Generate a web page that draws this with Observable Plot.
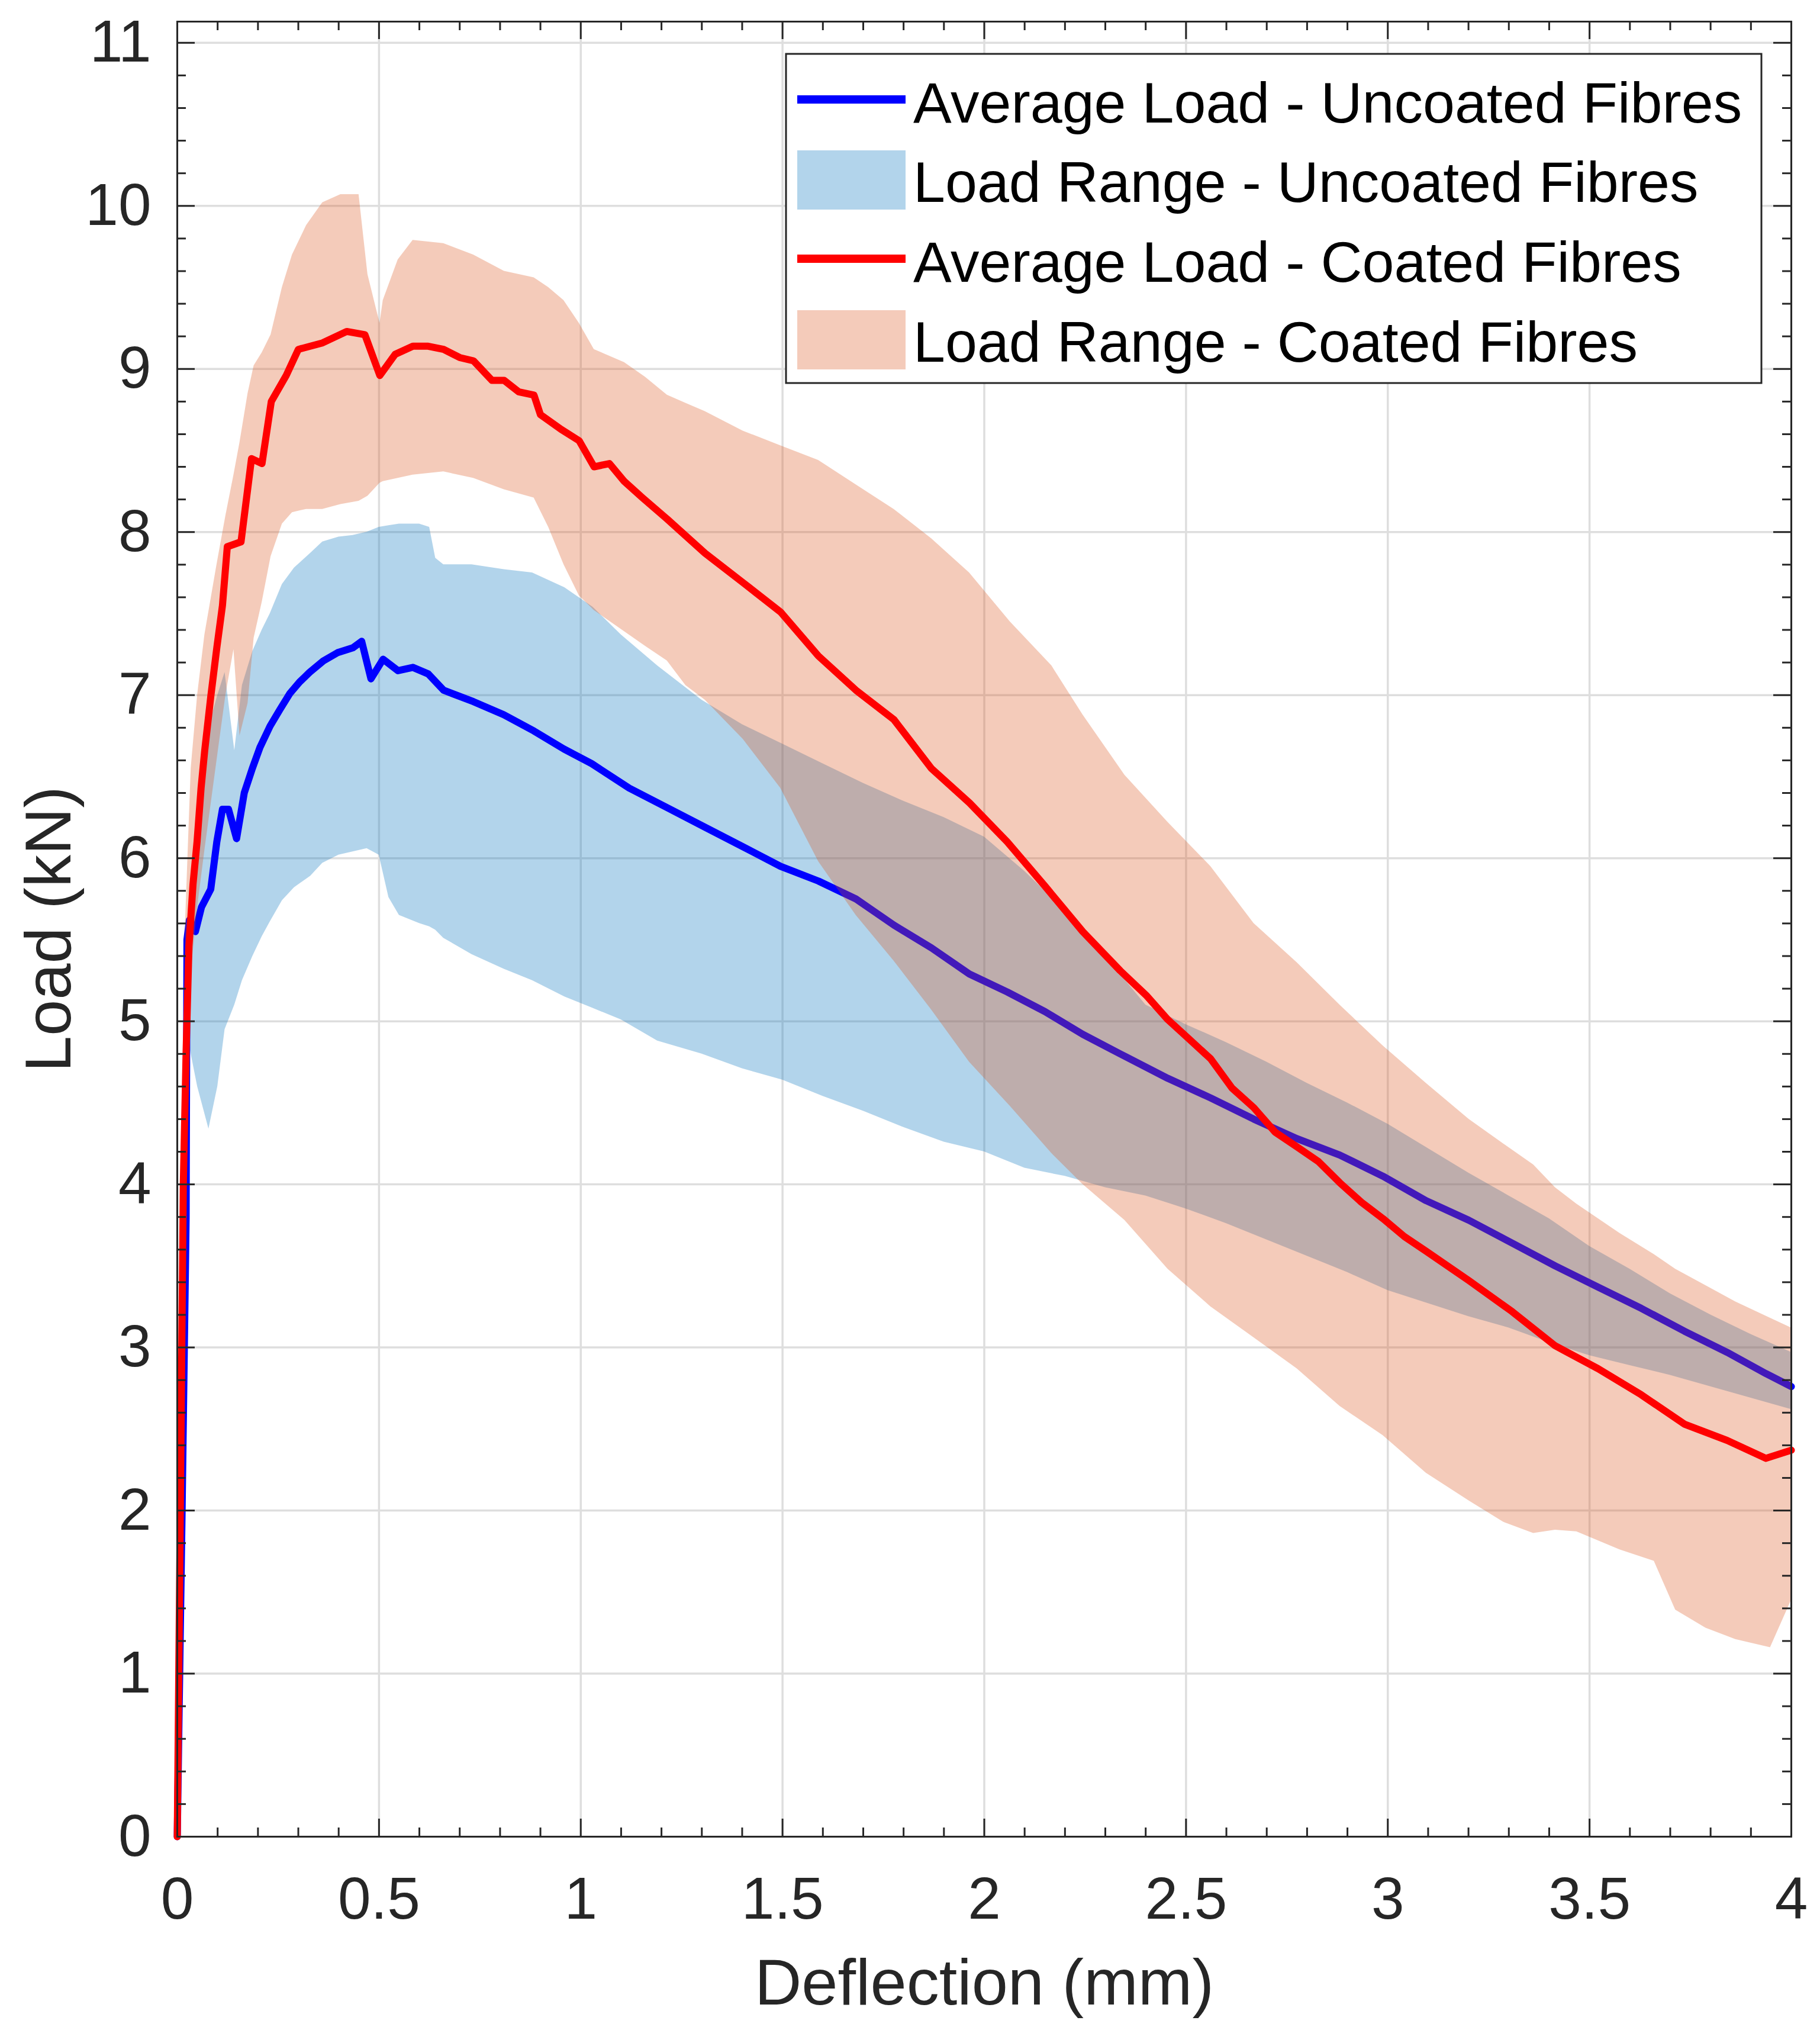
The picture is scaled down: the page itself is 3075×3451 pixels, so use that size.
<!DOCTYPE html>
<html>
<head>
<meta charset="utf-8">
<script src="https://cdn.jsdelivr.net/npm/d3@7"></script>
<script src="https://cdn.jsdelivr.net/npm/@observablehq/plot@0.6"></script>
<style>
  body { margin: 0; background: #fff; }
</style>
</head>
<body>
<div id="chart"></div>
<script>
// average load, uncoated fibres
const deflUncoated = [0, 0.012, 0.022, 0.024, 0.03, 0.045, 0.06, 0.083, 0.098, 0.112, 0.127, 0.147, 0.166, 0.186, 0.205, 0.23, 0.254, 0.279, 0.303, 0.328, 0.362, 0.397, 0.435, 0.457, 0.48, 0.51, 0.547, 0.584, 0.622, 0.66, 0.734, 0.809, 0.884, 0.958, 1.027, 1.12, 1.214, 1.308, 1.402, 1.495, 1.589, 1.682, 1.776, 1.869, 1.963, 2.057, 2.15, 2.244, 2.337, 2.455, 2.561, 2.668, 2.775, 2.881, 2.988, 3.095, 3.201, 3.308, 3.415, 3.521, 3.628, 3.735, 3.841, 3.937, 4.0]
const loadUncoated = [0, 2.0, 3.8, 5.5, 5.62, 5.55, 5.70, 5.81, 6.10, 6.30, 6.30, 6.12, 6.40, 6.55, 6.68, 6.81, 6.91, 7.01, 7.08, 7.14, 7.21, 7.26, 7.29, 7.33, 7.10, 7.22, 7.15, 7.17, 7.13, 7.03, 6.96, 6.88, 6.78, 6.67, 6.58, 6.43, 6.31, 6.19, 6.07, 5.95, 5.86, 5.75, 5.59, 5.45, 5.29, 5.18, 5.06, 4.92, 4.80, 4.65, 4.53, 4.40, 4.28, 4.18, 4.05, 3.90, 3.78, 3.64, 3.50, 3.37, 3.24, 3.10, 2.97, 2.84, 2.76]

// average load, coated fibres
const deflCoated = [0, 0.015, 0.022, 0.029, 0.039, 0.049, 0.059, 0.068, 0.083, 0.098, 0.112, 0.124, 0.158, 0.184, 0.21, 0.233, 0.27, 0.30, 0.36, 0.42, 0.465, 0.502, 0.54, 0.584, 0.62, 0.66, 0.70, 0.734, 0.78, 0.81, 0.846, 0.884, 0.90, 0.951, 0.996, 1.033, 1.071, 1.108, 1.153, 1.214, 1.308, 1.402, 1.495, 1.589, 1.682, 1.776, 1.869, 1.963, 2.057, 2.15, 2.244, 2.337, 2.401, 2.455, 2.508, 2.561, 2.614, 2.668, 2.721, 2.775, 2.828, 2.881, 2.935, 2.988, 3.041, 3.095, 3.201, 3.308, 3.415, 3.521, 3.628, 3.735, 3.841, 3.937, 4.0]
const loadCoated = [0, 4.0, 4.82, 5.46, 5.84, 6.10, 6.43, 6.66, 6.99, 7.29, 7.55, 7.91, 7.94, 8.45, 8.42, 8.80, 8.96, 9.12, 9.16, 9.23, 9.21, 8.96, 9.09, 9.14, 9.14, 9.12, 9.07, 9.05, 8.93, 8.93, 8.86, 8.84, 8.72, 8.63, 8.56, 8.40, 8.42, 8.31, 8.21, 8.08, 7.87, 7.69, 7.51, 7.24, 7.03, 6.85, 6.55, 6.34, 6.10, 5.83, 5.55, 5.31, 5.16, 5.01, 4.89, 4.77, 4.59, 4.47, 4.32, 4.23, 4.14, 4.01, 3.89, 3.79, 3.68, 3.59, 3.41, 3.22, 3.01, 2.87, 2.71, 2.53, 2.43, 2.32, 2.37]

// load range (min / max), uncoated fibres
const rangeDeflUncoated = [0, 0.015, 0.025, 0.03, 0.05, 0.078, 0.1, 0.118, 0.142, 0.161, 0.187, 0.21, 0.23, 0.26, 0.29, 0.33, 0.36, 0.4, 0.435, 0.47, 0.5, 0.524, 0.55, 0.6, 0.625, 0.64, 0.66, 0.73, 0.81, 0.88, 0.96, 1.03, 1.1, 1.19, 1.3, 1.4, 1.5, 1.6, 1.7, 1.8, 1.9, 2.0, 2.1, 2.2, 2.3, 2.4, 2.5, 2.6, 2.7, 2.8, 2.9, 3.0, 3.1, 3.2, 3.3, 3.4, 3.5, 3.6, 3.7, 3.8, 3.9, 4.0]
const rangeMinUncoated = [0, 1.5, 4.0, 4.85, 4.6, 4.34, 4.6, 4.95, 5.1, 5.25, 5.4, 5.52, 5.61, 5.74, 5.82, 5.89, 5.97, 6.02, 6.04, 6.06, 6.02, 5.76, 5.65, 5.60, 5.58, 5.56, 5.51, 5.41, 5.32, 5.25, 5.15, 5.08, 5.01, 4.88, 4.80, 4.71, 4.64, 4.54, 4.45, 4.35, 4.26, 4.20, 4.10, 4.05, 3.98, 3.93, 3.85, 3.76, 3.66, 3.56, 3.46, 3.35, 3.27, 3.19, 3.12, 3.03, 2.95, 2.89, 2.83, 2.76, 2.69, 2.62]
const rangeMaxUncoated = [0, 2.5, 5.4, 5.7, 6.3, 6.8, 7.0, 7.14, 6.66, 7.06, 7.27, 7.4, 7.5, 7.68, 7.78, 7.87, 7.94, 7.97, 7.98, 8.0, 8.03, 8.04, 8.05, 8.05, 8.03, 7.84, 7.80, 7.80, 7.77, 7.75, 7.66, 7.54, 7.37, 7.18, 6.97, 6.82, 6.70, 6.58, 6.46, 6.35, 6.25, 6.13, 5.92, 5.68, 5.40, 5.10, 4.98, 4.87, 4.75, 4.62, 4.50, 4.37, 4.22, 4.07, 3.93, 3.79, 3.62, 3.48, 3.33, 3.20, 3.08, 2.97]

// load range (min / max), coated fibres
const rangeDeflCoated = [0, 0.01, 0.02, 0.034, 0.05, 0.068, 0.098, 0.12, 0.14, 0.155, 0.175, 0.19, 0.21, 0.232, 0.26, 0.285, 0.32, 0.36, 0.405, 0.45, 0.472, 0.502, 0.51, 0.547, 0.584, 0.66, 0.734, 0.81, 0.884, 0.92, 0.958, 0.996, 1.033, 1.108, 1.16, 1.214, 1.26, 1.308, 1.402, 1.495, 1.589, 1.682, 1.776, 1.869, 1.963, 2.064, 2.167, 2.244, 2.348, 2.455, 2.561, 2.668, 2.775, 2.881, 2.988, 3.095, 3.201, 3.286, 3.361, 3.415, 3.468, 3.575, 3.66, 3.713, 3.788, 3.862, 3.948, 4.0]
const rangeMinCoated = [0, 1.5, 3.8, 5.3, 5.7, 6.05, 6.6, 7.0, 7.28, 6.75, 6.95, 7.35, 7.57, 7.85, 8.05, 8.12, 8.14, 8.14, 8.17, 8.19, 8.22, 8.30, 8.31, 8.33, 8.35, 8.37, 8.33, 8.26, 8.21, 8.03, 7.80, 7.61, 7.52, 7.39, 7.30, 7.21, 7.06, 6.97, 6.73, 6.43, 5.98, 5.65, 5.37, 5.07, 4.75, 4.48, 4.19, 4.00, 3.78, 3.48, 3.25, 3.06, 2.87, 2.64, 2.46, 2.23, 2.06, 1.93, 1.86, 1.88, 1.87, 1.76, 1.69, 1.39, 1.28, 1.21, 1.16, 1.45]
const rangeMaxCoated = [0, 3.5, 5.6, 6.55, 7.0, 7.37, 7.8, 8.1, 8.35, 8.55, 8.85, 9.02, 9.1, 9.21, 9.5, 9.70, 9.88, 10.02, 10.07, 10.07, 9.58, 9.28, 9.42, 9.67, 9.79, 9.77, 9.70, 9.60, 9.56, 9.50, 9.42, 9.28, 9.12, 9.04, 8.95, 8.84, 8.79, 8.74, 8.62, 8.53, 8.44, 8.29, 8.14, 7.96, 7.75, 7.45, 7.18, 6.88, 6.51, 6.22, 5.95, 5.60, 5.36, 5.10, 4.85, 4.62, 4.40, 4.25, 4.12, 3.98, 3.88, 3.70, 3.57, 3.48, 3.38, 3.28, 3.18, 3.12]

const xTicks = [0, 0.5, 1, 1.5, 2, 2.5, 3, 3.5, 4]
const yTicks = [0, 1, 2, 3, 4, 5, 6, 7, 8, 9, 10, 11]
const legendLabels = ['Average Load - Uncoated Fibres', 'Load Range - Uncoated Fibres', 'Average Load - Coated Fibres', 'Load Range - Coated Fibres']

const W = 3075, H = 3451
const mL = 299, mR = 49, mT = 36, mB = 349
const xMax = 4, yMax = 11.13
const pxX = (W - mL - mR) / xMax
const pxY = (H - mT - mB) / yMax
const axisCol = '#262626'
const font = 'Liberation Sans, Arial, Helvetica, sans-serif'
const blueFill = '#0072bd', redFill = '#d95319'

const xMinor = d3.range(0, 40.5, 1).map(d => d / 10).filter(d => !xTicks.includes(d))
const yMinor = d3.range(0, 56, 1).map(d => d / 5).filter(d => d <= 11 && !yTicks.includes(d))

const bandU = rangeDeflUncoated.map((x, i) => ({x, lo: rangeMinUncoated[i], hi: rangeMaxUncoated[i]}))
const bandC = rangeDeflCoated.map((x, i) => ({x, lo: rangeMinCoated[i], hi: rangeMaxCoated[i]}))
const avgU = deflUncoated.map((x, i) => ({x, y: loadUncoated[i]}))
const avgC = deflCoated.map((x, i) => ({x, y: loadCoated[i]}))

// inward ticks on all four sides (matlab box)
const major = 30, minor = 15
const ticksXY = (xs, len) => [
  Plot.ruleX(xs, {x: d => d, y1: 0, y2: len / pxY, stroke: axisCol, strokeWidth: 3}),
  Plot.ruleX(xs, {x: d => d, y1: yMax, y2: yMax - len / pxY, stroke: axisCol, strokeWidth: 3})
]
const ticksYX = (ys, len) => [
  Plot.ruleY(ys, {y: d => d, x1: 0, x2: len / pxX, stroke: axisCol, strokeWidth: 3}),
  Plot.ruleY(ys, {y: d => d, x1: xMax, x2: xMax - len / pxX, stroke: axisCol, strokeWidth: 3})
]

const chart = Plot.plot({
  width: W,
  height: H,
  marginLeft: mL,
  marginRight: mR,
  marginTop: mT,
  marginBottom: mB,
  x: {domain: [0, xMax]},
  y: {domain: [0, yMax]},
  style: {fontFamily: font, background: '#fff', color: axisCol},
  marks: [
    Plot.ruleX(xTicks, {x: d => d, stroke: '#dedede', strokeWidth: 3.5}),
    Plot.ruleY(yTicks, {y: d => d, stroke: '#dedede', strokeWidth: 3.5}),
    Plot.areaY(bandU, {x: 'x', y1: 'lo', y2: 'hi', fill: blueFill, fillOpacity: 0.3}),
    Plot.line(avgU, {x: 'x', y: 'y', stroke: '#0000ff', strokeWidth: 12, strokeLinejoin: 'round'}),
    Plot.areaY(bandC, {x: 'x', y1: 'lo', y2: 'hi', fill: redFill, fillOpacity: 0.3}),
    Plot.line(avgC, {x: 'x', y: 'y', stroke: '#ff0000', strokeWidth: 12, strokeLinejoin: 'round'}),
    Plot.frame({stroke: axisCol, strokeWidth: 3}),
    ...ticksXY(xTicks, major),
    ...ticksXY(xMinor, minor),
    ...ticksYX(yTicks, major),
    ...ticksYX(yMinor, minor),
    Plot.axisX(xTicks, {tickSize: 0, tickPadding: 67, fontSize: 100, tickFormat: d => String(d), label: null, color: axisCol}),
    Plot.axisY(yTicks, {tickSize: 0, tickPadding: 44, fontSize: 100, tickFormat: d => String(d), label: null, color: axisCol}),
    Plot.text(['Deflection (mm)'], {frameAnchor: 'bottom', dy: 248, lineAnchor: 'middle', textAnchor: 'middle', fontSize: 110, fill: axisCol}),
    Plot.text(['Load (kN)'], {x: -216 / pxX, y: yMax / 2, rotate: -90, lineAnchor: 'middle', textAnchor: 'middle', fontSize: 110, fill: axisCol}),
  ]
})

// legend box, top right
const svg = d3.select(chart)
const lg = svg.append('g').attr('font-family', font).attr('text-anchor', 'start')
lg.append('rect').attr('x', 1328).attr('y', 91).attr('width', 1648).attr('height', 556)
  .attr('fill', '#fff').attr('stroke', axisCol).attr('stroke-width', 3)
const rowY = [172, 306, 441, 576]
const swatch = [
  {type: 'line', color: '#0000ff'},
  {type: 'patch', color: blueFill},
  {type: 'line', color: '#ff0000'},
  {type: 'patch', color: redFill},
]
swatch.forEach((s, i) => {
  if (s.type === 'line') {
    lg.append('line').attr('x1', 1347).attr('x2', 1530).attr('y1', rowY[i] - 4).attr('y2', rowY[i] - 4)
      .attr('stroke', s.color).attr('stroke-width', 14)
  } else {
    lg.append('rect').attr('x', 1347).attr('y', rowY[i] - 52).attr('width', 183).attr('height', 100)
      .attr('fill', s.color).attr('fill-opacity', 0.3)
  }
  lg.append('text').attr('x', 1543).attr('y', rowY[i] + 35).attr('font-size', 97)
    .attr('text-anchor', 'start').attr('fill', '#000').text(legendLabels[i])
})

document.getElementById('chart').append(chart)
</script>
</body>
</html>
